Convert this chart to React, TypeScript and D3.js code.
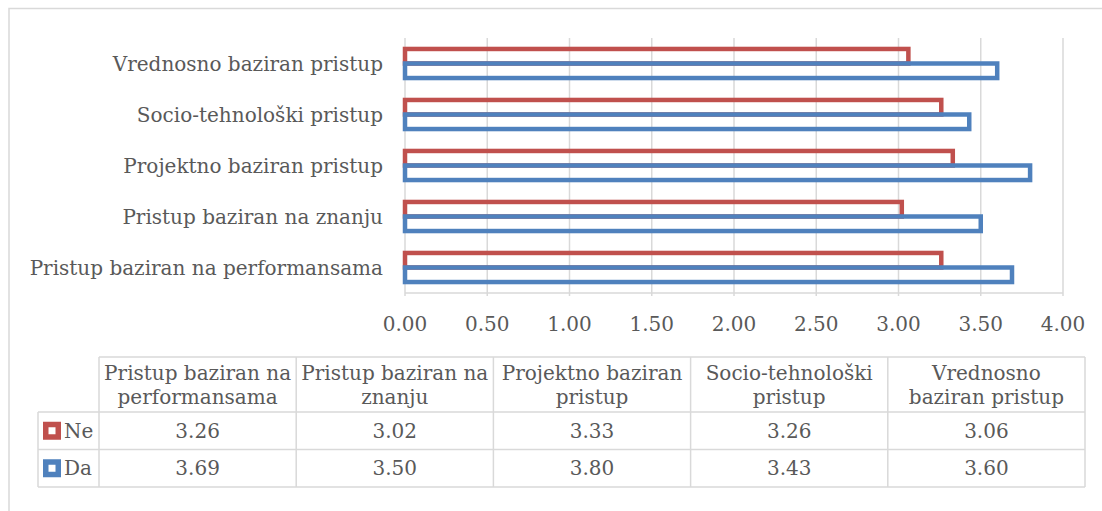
import React from "react";
import * as d3 from "d3";

const categories = [
  "Pristup baziran na performansama",
  "Pristup baziran na znanju",
  "Projektno baziran pristup",
  "Socio-tehnološki pristup",
  "Vrednosno baziran pristup",
];
const headerLines = [
  ["Pristup baziran na", "performansama"],
  ["Pristup baziran na", "znanju"],
  ["Projektno baziran", "pristup"],
  ["Socio-tehnološki", "pristup"],
  ["Vrednosno", "baziran pristup"],
];
const neValues = [3.26, 3.02, 3.33, 3.26, 3.06];
const daValues = [3.69, 3.5, 3.8, 3.43, 3.6];
const xTicks = [0, 0.5, 1, 1.5, 2, 2.5, 3, 3.5, 4];
const seriesNames = ["Ne", "Da"];

const RED = "#C0504D";
const BLUE = "#4F81BD";
const GRID = "#D9D9D9";
const TEXT = "#595959";
const FONT = "'DejaVu Serif', serif";
const FS = 20;

export default function App() {
  const x = d3.scaleLinear().domain([0, 4]).range([405, 1063]);
  const yCats = [...categories].reverse();
  const y0 = d3
    .scaleBand<string>()
    .domain(yCats)
    .range([38, 293])
    .paddingInner(0.43)
    .paddingOuter(0.215);
  const y1 = d3.scaleBand<string>().domain(seriesNames).range([0, y0.bandwidth()]);
  const colors: Record<string, string> = { Ne: RED, Da: BLUE };
  const values: Record<string, number[]> = { Ne: neValues, Da: daValues };

  // table geometry
  const colX = d3.scaleBand<string>().domain(categories).range([99, 1085]);
  const tTop = 357;
  const hBottom = 412;
  const rowH = 37.5;
  const rowY = d3.scaleBand<string>().domain(seriesNames).range([hBottom, hBottom + rowH * 2]);
  const labelLeft = 38;

  return (
    <svg
      width={1102}
      height={511}
      style={{ position: "absolute", left: 0, top: 0, background: "#fff" }}
      fontFamily={FONT}
    >
      <rect x={0} y={0} width={1102} height={511} fill="#fff" />
      {/* outer chart frame */}
      <rect x={9} y={8.5} width={1300} height={700} fill="none" stroke={GRID} strokeWidth={1.5} />

      {/* gridlines */}
      {xTicks.map((t) => (
        <line key={t} x1={x(t)} x2={x(t)} y1={38} y2={296} stroke={GRID} strokeWidth={1.5} />
      ))}
      <line x1={x(0)} x2={x(4)} y1={293} y2={293} stroke={GRID} strokeWidth={1.5} />

      {/* bars */}
      {yCats.map((c) => {
        const i = categories.indexOf(c);
        return seriesNames.map((s) => (
          <rect
            key={c + s}
            x={x(0)}
            y={(y0(c) as number) + (y1(s) as number)}
            width={x(values[s][i]) - x(0)}
            height={y1.bandwidth()}
            fill="none"
            stroke={colors[s]}
            strokeWidth={4.5}
          />
        ));
      })}

      {/* category labels */}
      {yCats.map((c) => (
        <text
          key={c}
          x={383}
          y={(y0(c) as number) + y0.bandwidth() / 2}
          textAnchor="end"
          dominantBaseline="central"
          fontSize={FS}
          fill={TEXT}
        >
          {c}
        </text>
      ))}

      {/* x tick labels */}
      {xTicks.map((t) => (
        <text key={t} x={x(t)} y={324} textAnchor="middle" dominantBaseline="central" fontSize={FS} fill={TEXT}>
          {t.toFixed(2)}
        </text>
      ))}

      {/* data table */}
      <g stroke={GRID} strokeWidth={1.5} fill="none">
        <line x1={99} x2={1085} y1={tTop} y2={tTop} />
        <line x1={labelLeft} x2={1085} y1={hBottom} y2={hBottom} />
        {seriesNames.map((s) => (
          <line key={s} x1={labelLeft} x2={1085} y1={(rowY(s) as number) + rowY.bandwidth()} y2={(rowY(s) as number) + rowY.bandwidth()} />
        ))}
        <line x1={labelLeft} x2={labelLeft} y1={hBottom} y2={hBottom + rowH * 2} />
        {categories.map((c) => (
          <line key={c} x1={colX(c)} x2={colX(c)} y1={tTop} y2={hBottom + rowH * 2} />
        ))}
        <line x1={1085} x2={1085} y1={tTop} y2={hBottom + rowH * 2} />
      </g>
      {categories.map((c, i) => (
        <text key={c} x={(colX(c) as number) + colX.bandwidth() / 2} textAnchor="middle" fontSize={FS} fill={TEXT}>
          <tspan x={(colX(c) as number) + colX.bandwidth() / 2} y={380}>
            {headerLines[i][0]}
          </tspan>
          <tspan x={(colX(c) as number) + colX.bandwidth() / 2} y={404}>
            {headerLines[i][1]}
          </tspan>
        </text>
      ))}
      {seriesNames.map((s) => {
        const cy = (rowY(s) as number) + rowY.bandwidth() / 2;
        return (
          <g key={s}>
            <rect x={45.75} y={cy - 6.25} width={12.5} height={12.5} fill="none" stroke={colors[s]} strokeWidth={5.5} />
            <text x={64} y={cy} dominantBaseline="central" fontSize={FS} fill={TEXT}>
              {s}
            </text>
            {categories.map((c, i) => (
              <text
                key={c}
                x={(colX(c) as number) + colX.bandwidth() / 2}
                y={cy}
                textAnchor="middle"
                dominantBaseline="central"
                fontSize={FS}
                fill={TEXT}
              >
                {values[s][i].toFixed(2)}
              </text>
            ))}
          </g>
        );
      })}
    </svg>
  );
}
